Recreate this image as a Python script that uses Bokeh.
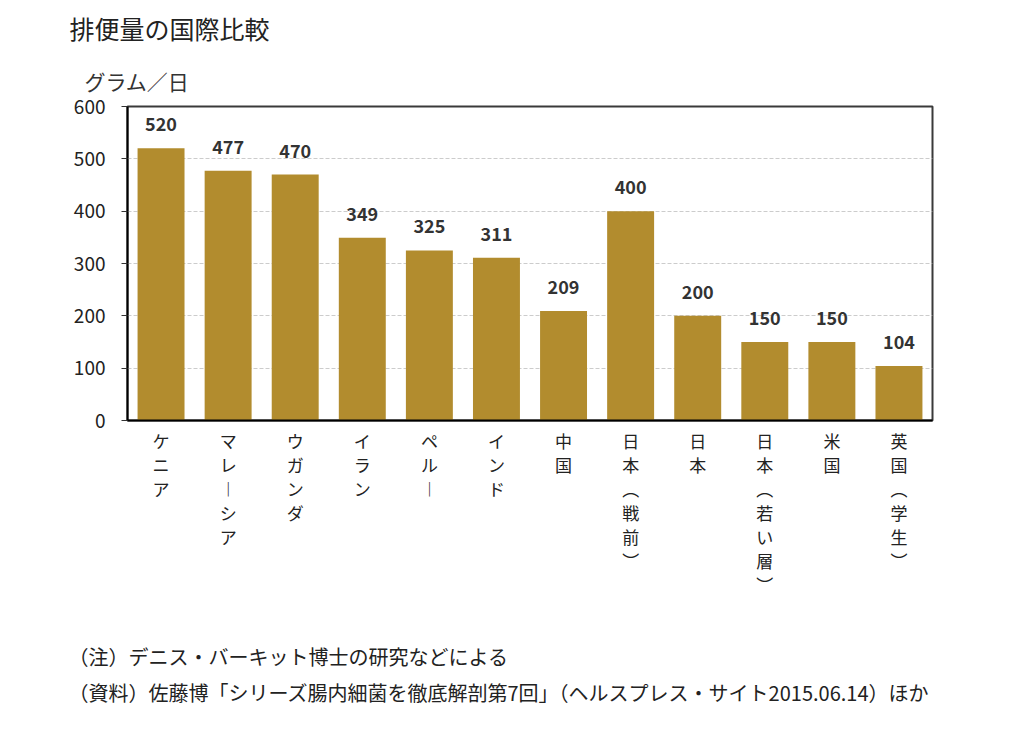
from bokeh.plotting import figure
from bokeh.models import (ColumnDataSource, FactorRange, Range1d, Title, CategoricalAxis,
                          CustomJSTickFormatter)
from bokeh.core.properties import value
from bokeh.embed import file_html
from bokeh.resources import INLINE

FONT = "Noto Sans CJK JP"

title_text = "排便量の国際比較"
unit_text = "グラム／日"
categories = ["ケニア", "マレーシア", "ウガンダ", "イラン", "ペルー", "インド", "中国",
              "日本（戦前）", "日本", "日本（若い層）", "米国", "英国（学生）"]
values = [520, 477, 470, 349, 325, 311, 209, 400, 200, 150, 150, 104]
y_ticks = [0, 100, 200, 300, 400, 500, 600]
notes = ["（注）デニス・バーキット博士の研究などによる",
         "（資料）佐藤博「シリーズ腸内細菌を徹底解剖第7回」（ヘルスプレス・サイト2015.06.14）ほか"]

# vertical presentation forms for stacked (tategaki) category labels
VERT = {"ー": "︱", "（": "︵", "）": "︶"}

W, H = 1010, 730
FL, FR, FT, FB = 127, 932, 106, 420  # frame edges on the canvas
p = figure(width=W, height=H, output_backend="svg", toolbar_location=None,
           x_range=FactorRange(*categories, range_padding=0, factor_padding=0),
           y_range=Range1d(0, 600),
           min_border_left=FL, min_border_right=W - FR, min_border_top=FT,
           min_border_bottom=H - FB)

src = ColumnDataSource(dict(cat=categories, val=values, lab=[str(v) for v in values]))
p.vbar(x="cat", top="val", width=0.7, source=src, fill_color="#B28C2E", line_color=None)
p.text(x="cat", y="val", text="lab", source=src, y_offset=-17, text_align="center",
       text_baseline="bottom", text_font=value(FONT), text_font_size="18px",
       text_font_style="bold", text_color="#333333")

p.outline_line_color = "#3a3a3a"
p.outline_line_width = 2
p.background_fill_color = "white"
p.border_fill_color = "white"

p.xgrid.grid_line_color = None
p.ygrid.ticker = y_ticks
p.ygrid.grid_line_color = "#cccccc"
p.ygrid.grid_line_dash = "4 2"

ya = p.yaxis[0]
ya.ticker = y_ticks
ya.axis_line_color = "black"
ya.axis_line_width = 2
ya.major_tick_out = 6
ya.major_tick_in = 0
ya.major_tick_line_color = "#333333"
ya.minor_tick_line_color = None
ya.major_label_text_font = FONT
ya.major_label_text_font_size = "19px"
ya.major_label_text_color = "#222222"
ya.major_label_standoff = 16


def style_row(ax, k, standoff):
    row = {c: (VERT.get(c[k], c[k]) if k < len(c) else " ") for c in categories}
    ax.formatter = CustomJSTickFormatter(args=dict(row=row),
                                         code="return row[tick] !== undefined ? row[tick] : ' ';")
    ax.major_tick_line_color = None
    ax.minor_tick_line_color = None
    ax.major_tick_out = 0
    ax.major_tick_in = 0
    ax.major_label_standoff = standoff
    ax.major_label_text_font = FONT
    ax.major_label_text_font_size = "17px"
    ax.major_label_text_color = "#222222"
    ax.major_label_orientation = "horizontal"


xa = p.xaxis[0]
xa.axis_line_color = "black"
xa.axis_line_width = 2
style_row(xa, 0, 7)

max_len = max(len(c) for c in categories)
for k in range(1, max_len):
    ax = CategoricalAxis()
    ax.axis_line_color = None
    style_row(ax, k, -4)
    p.add_layout(ax, "below")


def text_title(text, size, offset, standoff, color="#222222"):
    return Title(text=text, align="left", offset=offset, text_font=FONT,
                 text_font_size=size, text_color=color, text_font_style="normal",
                 standoff=standoff)


# titles above the frame (first added sits nearest the frame)
p.title = None
p.add_layout(text_title(unit_text, "21px", -43, 22, "#333333"), "above")
p.add_layout(text_title(title_text, "25px", -58, 13), "above")

# notes below the stacked category labels
p.add_layout(text_title(" ", "20px", -59, 7), "below")
p.add_layout(text_title(notes[0], "20px", -59, 5), "below")
p.add_layout(text_title(notes[1], "20px", -59, 5), "below")

open("out.html", "w").write(file_html(p, INLINE))
